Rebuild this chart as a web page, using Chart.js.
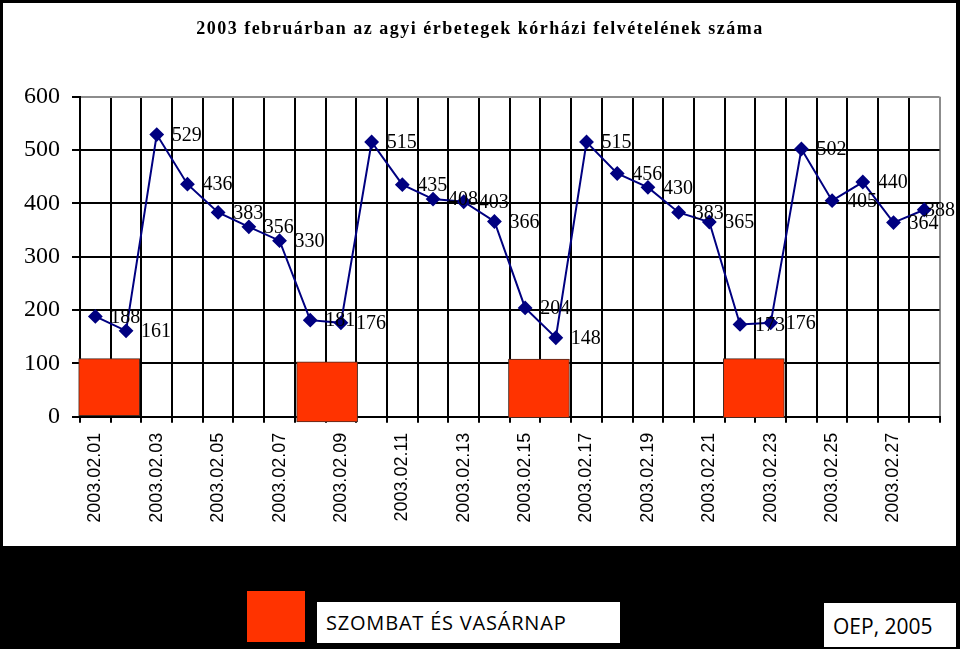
<!DOCTYPE html>
<html>
<head>
<meta charset="utf-8">
<script src="https://cdn.jsdelivr.net/npm/chart.js@4"></script>
<style>
  body { margin: 0; background: #000; width: 960px; height: 649px; overflow: hidden; position: relative; }
  #panel { position: absolute; left: 3px; top: 3px; width: 953px; height: 543px; background: #fff; }
  #redkey { position: absolute; left: 247px; top: 591px; width: 58px; height: 51px; background: #ff3300; }
  .box { position: absolute; background: #fff; color: #000; font-family: "Open Sans", sans-serif; box-sizing: border-box; white-space: nowrap; }
  #keytext { left: 317px; top: 602px; width: 303px; height: 41px; font-size: 20px; letter-spacing: 0.8px; line-height: 41px; padding-left: 9px; }
  #source { left: 824px; top: 603px; width: 132px; height: 44px; font-size: 21px; line-height: 46px; padding-left: 9px; }
</style>
</head>
<body>
<div id="panel"><canvas id="myChart" width="953" height="543"></canvas></div>
<div id="redkey"></div>
<div class="box" id="keytext">SZOMBAT ÉS VASÁRNAP</div>
<div class="box" id="source">OEP, 2005</div>
<script>
var title = '2003 februárban az agyi érbetegek kórházi felvételének száma';
var days = ['2003.02.01','2003.02.02','2003.02.03','2003.02.04','2003.02.05','2003.02.06','2003.02.07',
            '2003.02.08','2003.02.09','2003.02.10','2003.02.11','2003.02.12','2003.02.13','2003.02.14',
            '2003.02.15','2003.02.16','2003.02.17','2003.02.18','2003.02.19','2003.02.20','2003.02.21',
            '2003.02.22','2003.02.23','2003.02.24','2003.02.25','2003.02.26','2003.02.27','2003.02.28'];
var admissions = [188,161,529,436,383,356,330,181,176,515,435,408,403,366,204,148,515,456,430,383,365,173,176,502,405,440,364,388];
// weekend markers (red boxes), in day-index units and y units
var weekendCenters = [0.45, 7.55, 14.45, 21.45];
var weekendTops = [109, 103, 108, 109];
var weekendBottoms = [0, -10, -2, -2];

var boxes = weekendCenters.map(function (c, i) {
    return { x: c, y: [weekendBottoms[i], weekendTops[i]] };
});

var titlePlugin = {
    id: 'titleText',
    afterDraw: function (chart) {
        var ctx = chart.ctx;
        ctx.save();
        ctx.font = 'bold 18px "Liberation Serif"';
        ctx.letterSpacing = '1.5px';
        ctx.fillStyle = '#000';
        ctx.textAlign = 'center';
        ctx.textBaseline = 'middle';
        ctx.fillText(title, 477, 26);
        ctx.restore();
    }
};

var valueLabels = {
    id: 'valueLabels',
    afterDatasetsDraw: function (chart) {
        var ctx = chart.ctx;
        var meta = chart.getDatasetMeta(0);
        ctx.save();
        ctx.font = '20px "Liberation Serif"';
        ctx.fillStyle = '#000';
        ctx.textAlign = 'left';
        ctx.textBaseline = 'middle';
        meta.data.forEach(function (pt, i) {
            var txt = String(admissions[i]);
            var x = pt.x + 15;
            var w = ctx.measureText(txt).width;
            if (x + w > chart.width - 1) x = chart.width - 1 - w;
            ctx.fillText(txt, x, pt.y + 1);
        });
        ctx.restore();
    }
};

var ctx = document.getElementById('myChart').getContext('2d');
var myChart = new Chart(ctx, {
    data: {
        labels: days,
        datasets: [{
            type: 'line',
            label: 'Felvételek',
            data: admissions,
            borderColor: '#000080',
            backgroundColor: '#000080',
            borderWidth: 2,
            pointStyle: 'rectRot',
            pointRadius: 6,
            tension: 0,
            order: 1
        }, {
            type: 'bar',
            label: 'SZOMBAT ÉS VASÁRNAP',
            data: boxes,
            xAxisID: 'xb',
            grouped: false,
            backgroundColor: '#ff3300',
            borderColor: '#4a2a20',
            borderWidth: 1,
            borderSkipped: false,
            barThickness: 61,
            clip: false,
            order: 2
        }]
    },
    plugins: [titlePlugin, valueLabels],
    options: {
        responsive: false,
        animation: false,
        layout: { padding: { top: 93.7, right: 10.3, left: 0, bottom: 0 } },
        plugins: {
            legend: { display: false },
            title: { display: false },
            tooltip: { enabled: false }
        },
        scales: {
            x: {
                type: 'category',
                offset: true,
                grid: {
                    offset: true,
                    color: function (c) { return c.type === 'scale' ? '#8c8c8c' : '#000'; },
                    tickColor: '#000',
                    lineWidth: 2,
                    tickLength: 6
                },
                border: { display: true, color: '#000', width: 2 },
                ticks: {
                    autoSkip: false,
                    maxRotation: 90,
                    minRotation: 90,
                    padding: 10,
                    color: '#000',
                    font: { family: '"Liberation Sans"', size: 18 },
                    callback: function (v, i) { return i % 2 === 0 ? days[i] : ''; }
                },
                afterFit: function (s) { s.height = 129.3; }
            },
            xb: {
                type: 'linear',
                display: false,
                min: -0.5,
                max: 27.5,
                offset: false
            },
            y: {
                min: 0,
                max: 600,
                grid: {
                    color: function (c) { return c.tick && c.tick.value === 600 ? '#8c8c8c' : '#000'; },
                    tickColor: '#000',
                    lineWidth: 2,
                    tickLength: 8
                },
                border: { display: true, color: '#000', width: 2 },
                ticks: {
                    stepSize: 100,
                    padding: 12,
                    color: '#000',
                    font: { family: '"Liberation Serif"', size: 24 }
                },
                afterFit: function (s) { s.width = 77; }
            }
        }
    }
});
</script>
</body>
</html>
